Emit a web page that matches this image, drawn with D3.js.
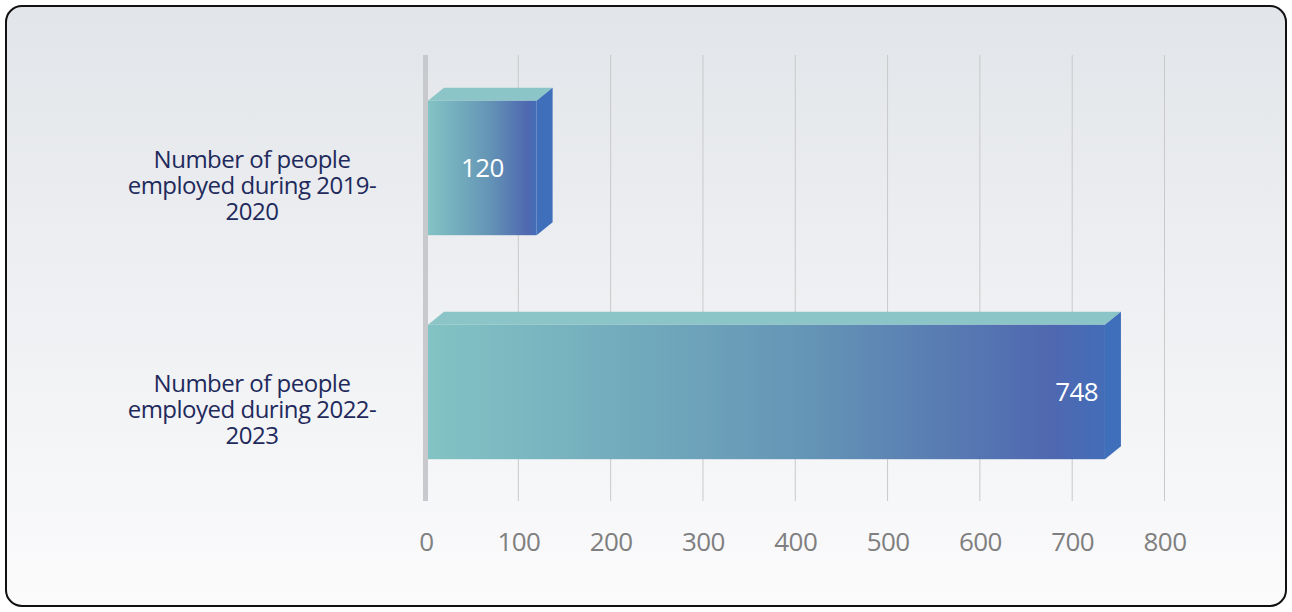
<!DOCTYPE html>
<html>
<head>
<meta charset="utf-8">
<script src="https://cdn.jsdelivr.net/npm/d3@7"></script>
<style>
  body { margin: 0; background: #fff; }
  svg { display: block; }
</style>
</head>
<body>
<svg id="chart" width="1292" height="612"></svg>
<script>
// chart data
var categories = [
  ["Number of people", "employed during 2019-", "2020"],
  ["Number of people", "employed during 2022-", "2023"]
];
var values = [120, 748];
var ticks = [0, 100, 200, 300, 400, 500, 600, 700, 800];

var svg = d3.select("#chart");
var W = 1292, H = 612;
var depthX = 16, depthY = 13;

var defs = svg.append("defs");
var bg = defs.append("linearGradient").attr("id", "bg").attr("x1", 0).attr("y1", 0).attr("x2", 0).attr("y2", 1);
bg.append("stop").attr("offset", "0%").attr("stop-color", "#e2e5e9");
bg.append("stop").attr("offset", "100%").attr("stop-color", "#fbfbfc");

var front = defs.append("linearGradient").attr("id", "front").attr("x1", 0).attr("y1", 0).attr("x2", 1).attr("y2", 0);
front.append("stop").attr("offset", "0%").attr("stop-color", "#82c3c4");
front.append("stop").attr("offset", "55%").attr("stop-color", "#6596b6");
front.append("stop").attr("offset", "92%").attr("stop-color", "#4f68b0");
front.append("stop").attr("offset", "100%").attr("stop-color", "#436db8");

svg.append("rect")
  .attr("x", 6).attr("y", 6).attr("width", W - 12).attr("height", H - 12)
  .attr("rx", 16).attr("ry", 16)
  .attr("fill", "url(#bg)").attr("stroke", "#111").attr("stroke-width", 2);

var plotTop = 55, plotBottom = 501;
// back-wall scale (gridlines) and front-face scale
var x = d3.scaleLinear().domain([0, 800]).range([426, 1164.5]);
var xf = d3.scaleLinear().domain([0, 800]).range([428, 1152]);
var y = d3.scaleBand().domain(d3.range(values.length)).range([56, 504]).paddingInner(0.4).paddingOuter(0.2);

// gridlines
svg.append("g").selectAll("line").data(ticks.slice(1)).join("line")
  .attr("x1", function(d) { return x(d); }).attr("x2", function(d) { return x(d); })
  .attr("y1", plotTop).attr("y2", plotBottom)
  .attr("stroke", "#c9c9c9").attr("stroke-width", 1);

// left wall
svg.append("rect").attr("x", 423).attr("y", plotTop).attr("width", 5).attr("height", plotBottom - plotTop).attr("fill", "#c8c9cc");

// axis labels
var axis = d3.axisBottom(x).tickValues(ticks).tickSize(0).tickPadding(0);
var ax = svg.append("g").attr("transform", "translate(0," + 533 + ")").call(axis);
ax.select(".domain").remove();
ax.selectAll("text")
  .attr("font-family", "'Open Sans', sans-serif").attr("font-size", 26)
  .attr("fill", "#7f7f7f").attr("dy", "0.71em").style("letter-spacing", "-0.6px");

// bars
var bars = svg.append("g").selectAll("g").data(values).join("g");
bars.each(function(v, i) {
  var g = d3.select(this);
  var x0 = xf(0), x1 = xf(v), y0 = y(i), y1 = y(i) + y.bandwidth();
  g.append("polygon")
    .attr("points", [[x0, y0], [x0 + depthX, y0 - depthY], [x1 + depthX, y0 - depthY], [x1, y0]].join(" "))
    .attr("fill", "#8cc5c7");
  g.append("polygon")
    .attr("points", [[x1, y0], [x1 + depthX, y0 - depthY], [x1 + depthX, y1 - depthY], [x1, y1]].join(" "))
    .attr("fill", "#3f6eba");
  g.append("rect").attr("x", x0).attr("y", y0).attr("width", x1 - x0).attr("height", y1 - y0)
    .attr("fill", "url(#front)");
  var lbl = g.append("text")
    .attr("y", (y0 + y1) / 2).attr("dy", "0.35em")
    .attr("font-family", "'Open Sans', sans-serif").attr("font-size", 26)
    .attr("fill", "#fff").style("letter-spacing", "-0.6px")
    .text(v);
  if (v < 300) lbl.attr("x", (x0 + x1) / 2).attr("text-anchor", "middle");
  else lbl.attr("x", x1 - 7).attr("text-anchor", "end");
});

// category labels
svg.append("g").selectAll("text").data(categories).join("text")
  .attr("x", 252)
  .attr("y", function(d, i) { return y(i) + y.bandwidth() / 2 - 8; })
  .attr("text-anchor", "middle")
  .attr("font-family", "'Open Sans', sans-serif").attr("font-size", 24)
  .attr("fill", "#1f2a5c").style("letter-spacing", "-0.5px")
  .each(function(d) {
    var t = d3.select(this);
    d.forEach(function(line, k) {
      t.append("tspan").attr("x", 252).attr("dy", k === 0 ? "0.35em" : "26px").text(line);
    });
  });
</script>
</body>
</html>
